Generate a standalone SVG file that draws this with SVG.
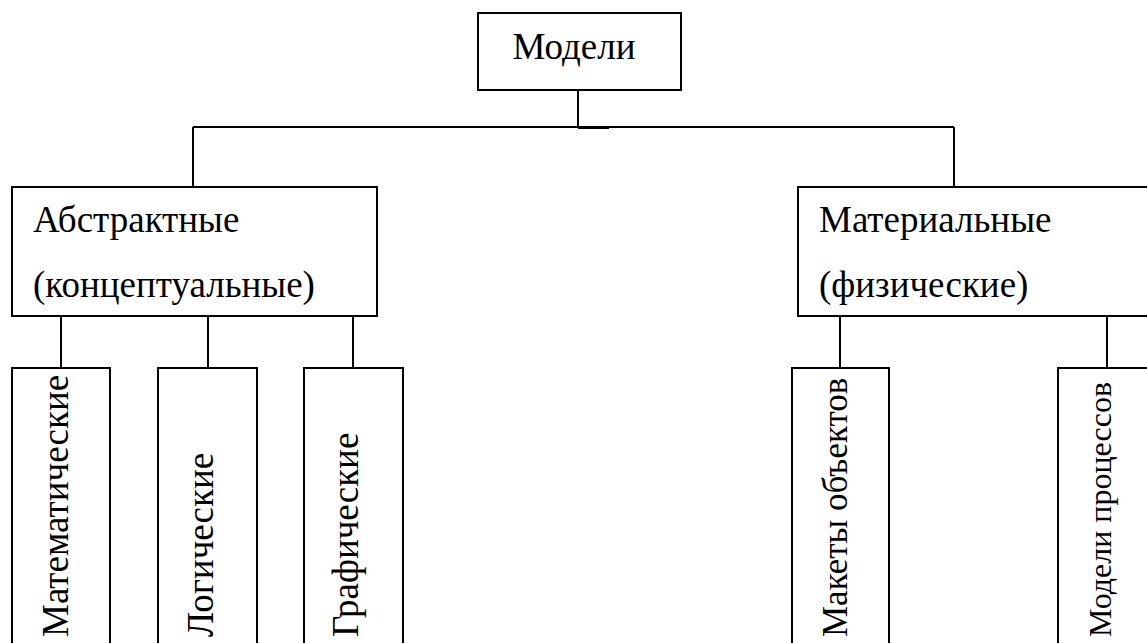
<svg xmlns="http://www.w3.org/2000/svg" width="1147" height="643" viewBox="0 0 1147 643">
<style>
.box{fill:#fff;stroke:#000;stroke-width:2}
.ln{stroke:#000;stroke-width:2;fill:none}
text{font-family:'Liberation Serif','Times New Roman',Times,serif;font-size:37px;fill:#000}
</style>
<rect width="1147" height="643" fill="#fff"/>
<g id="connectors">
<line class="ln" x1="578" y1="90" x2="578" y2="127"/>
<line class="ln" x1="193" y1="127" x2="954" y2="127"/>
<line class="ln" x1="578" y1="128" x2="609" y2="128"/>
<line class="ln" x1="193" y1="127" x2="193" y2="187"/>
<line class="ln" x1="954" y1="127" x2="954" y2="187"/>
<line class="ln" x1="61" y1="316" x2="61" y2="368"/>
<line class="ln" x1="208" y1="316" x2="208" y2="368"/>
<line class="ln" x1="353" y1="316" x2="353" y2="368"/>
<line class="ln" x1="840" y1="316" x2="840" y2="368"/>
<line class="ln" x1="1107" y1="316" x2="1107" y2="368"/>
</g>
<g id="models">
<rect class="box" x="478" y="13" width="203" height="77"/>
<text x="574" y="59" text-anchor="middle" font-family="Liberation Serif">Модели</text>
</g>
<g id="abstract">
<rect class="box" x="12" y="187" width="365" height="129"/>
<text x="33" y="232">Абстрактные</text>
<text x="33" y="297">(концептуальные)</text>
</g>
<g id="material">
<rect class="box" x="798" y="187" width="360" height="129"/>
<text x="819" y="232">Материальные</text>
<text x="819" y="297">(физические)</text>
</g>
<g id="math">
<rect class="box" x="12" y="368" width="98" height="290"/>
<text transform="translate(68,637) rotate(-90)">Математические</text>
</g>
<g id="logic">
<rect class="box" x="158" y="368" width="99" height="290"/>
<text transform="translate(213,637) rotate(-90)">Логические</text>
</g>
<g id="graphic">
<rect class="box" x="304" y="368" width="99" height="290"/>
<text transform="translate(358,637) rotate(-90)">Графические</text>
</g>
<g id="mockups">
<rect class="box" x="792" y="368" width="97" height="290"/>
<text style="font-size:35px" transform="translate(847,637) rotate(-90)">Макеты объектов</text>
</g>
<g id="processes">
<rect class="box" x="1058" y="368" width="100" height="290"/>
<text style="font-size:32px" transform="translate(1111,637) rotate(-90)">Модели процессов</text>
</g>
</svg>
